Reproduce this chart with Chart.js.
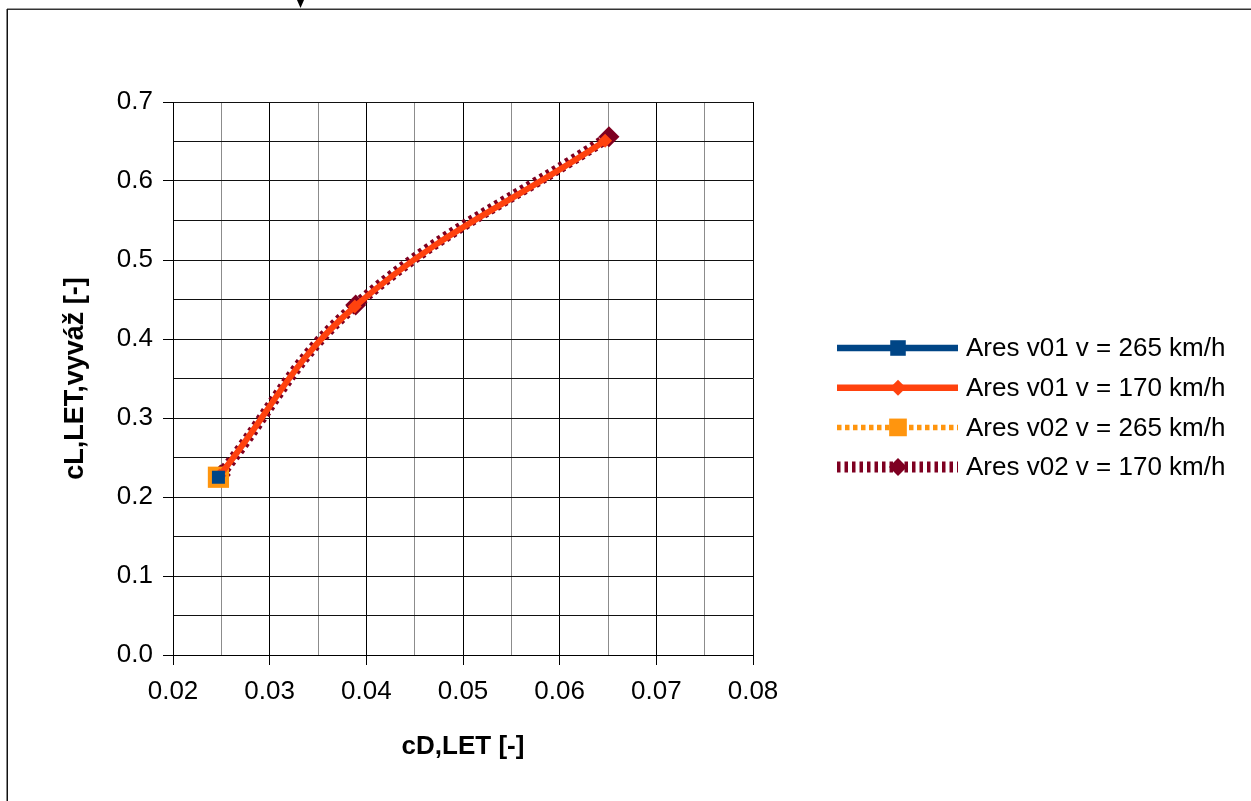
<!DOCTYPE html>
<html>
<head>
<meta charset="utf-8">
<script src="https://cdn.jsdelivr.net/npm/chart.js@4/dist/chart.umd.min.js"></script>
<style>
html,body{margin:0;padding:0;background:#fff;}
#wrap{width:1251px;height:801px;position:relative;}
canvas{display:block;}
</style>
</head>
<body>
<div id="wrap"><canvas id="c" width="1251" height="801"></canvas></div>
<script>
// ---- data ----
const seriesNames = ['Ares v01 v = 265 km/h', 'Ares v01 v = 170 km/h', 'Ares v02 v = 265 km/h', 'Ares v02 v = 170 km/h'];
const v01_265_cD = [0.0247];
const v01_265_cL = [0.225];
const v01_170_cD = [0.0248, 0.0388, 0.0647];
const v01_170_cL = [0.227, 0.441, 0.651];
const v02_265_cD = [0.0247];
const v02_265_cL = [0.225];
const v02_170_cD = [0.0249, 0.0389, 0.0651];
const v02_170_cL = [0.228, 0.443, 0.656];
const xTickLabels = ['0.02', '0.03', '0.04', '0.05', '0.06', '0.07', '0.08'];
const yTickLabels = ['0.0', '0.1', '0.2', '0.3', '0.4', '0.5', '0.6', '0.7'];
const xTitle = 'cD,LET [-]';
const yTitle = 'cL,LET,vyváž [-]';

function pts(xs, ys) { return xs.map((x, i) => ({x: x, y: ys[i]})); }

const FONT = '"Liberation Sans", Arial, sans-serif';
Chart.defaults.font.family = FONT;
Chart.defaults.color = '#000';

const frame = {
  id: 'frame',
  beforeDraw(chart) {
    const c = chart.ctx;
    c.save();
    c.fillStyle = '#fff';
    c.fillRect(0, 0, chart.width, chart.height);
    c.fillStyle = '#9a9a9a';
    c.fillRect(7, 8, 1244, 1);
    c.fillStyle = '#333';
    c.fillRect(7, 9, 1244, 1);
    c.fillStyle = '#111';
    c.fillRect(6.5, 9, 1.5, 792);
    c.beginPath();
    c.moveTo(297, 0); c.lineTo(304, 0); c.lineTo(300.5, 8); c.closePath();
    c.fillStyle = '#000';
    c.fill();
    c.restore();
  }
};

function markerPath(c, style, x, y, r) {
  c.beginPath();
  if (style === 'rect') {
    const s = r * Math.SQRT1_2;
    c.rect(x - s, y - s, 2 * s, 2 * s);
  } else {
    c.moveTo(x - r, y); c.lineTo(x, y - r); c.lineTo(x + r, y); c.lineTo(x, y + r); c.closePath();
  }
}

const legendPlugin = {
  id: 'customLegend',
  afterDraw(chart) {
    const c = chart.ctx;
    const x0 = 837, x1 = 958, mx = 898, tx = 966, y0 = 348, dy = 39.7;
    chart.data.datasets.forEach((ds, i) => {
      const y = y0 + i * dy;
      c.save();
      c.strokeStyle = ds.borderColor;
      c.lineWidth = ds.legendLineWidth;
      c.lineCap = 'butt';
      c.setLineDash(ds.borderDash || []);
      c.beginPath(); c.moveTo(x0, y); c.lineTo(x1, y); c.stroke();
      c.setLineDash([]);
      markerPath(c, ds.pointStyle, mx, y, ds.legendRadius);
      c.fillStyle = ds.pointBackgroundColor;
      c.fill();
      c.fillStyle = '#000';
      c.font = '26px ' + FONT;
      c.textBaseline = 'middle';
      c.textAlign = 'left';
      c.fillText(ds.label, tx, y + 1);
      c.restore();
    });
  }
};

const blue = '#004586', red = '#ff420e', orange = '#ff950e', maroon = '#7e0021';

new Chart(document.getElementById('c'), {
  type: 'scatter',
  data: {
    datasets: [
      {
        label: seriesNames[0], data: pts(v01_265_cD, v01_265_cL), order: 1,
        showLine: true, borderColor: blue, borderWidth: 6, legendLineWidth: 6.5,
        pointStyle: 'rect', pointRadius: 9.2, pointBackgroundColor: blue, pointBorderWidth: 0,
        legendRadius: 11
      },
      {
        label: seriesNames[1], data: pts(v01_170_cD, v01_170_cL), order: 2,
        showLine: true, tension: 0.4, borderColor: red, borderWidth: 6, legendLineWidth: 6.5,
        pointStyle: 'rectRot', pointRadius: 7, pointBackgroundColor: red, pointBorderWidth: 0,
        legendRadius: 8
      },
      {
        label: seriesNames[2], data: pts(v02_265_cD, v02_265_cL), order: 3,
        showLine: true, borderColor: orange, borderWidth: 6, legendLineWidth: 5.5, borderDash: [4.5, 3.5],
        pointStyle: 'rect', pointRadius: 15, pointBackgroundColor: orange, pointBorderWidth: 0,
        legendRadius: 12.5
      },
      {
        label: seriesNames[3], data: pts(v02_170_cD, v02_170_cL), order: 4,
        showLine: true, tension: 0.4, borderColor: maroon, borderWidth: 11, legendLineWidth: 11, borderDash: [3.5, 4],
        pointStyle: 'rectRot', pointRadius: 10.5, pointBackgroundColor: maroon, pointBorderWidth: 0,
        legendRadius: 9
      }
    ]
  },
  options: {
    responsive: false,
    animation: false,
    devicePixelRatio: 1,
    layout: {padding: {top: 102, right: 498, bottom: 0, left: 0}},
    plugins: {legend: {display: false}, tooltip: {enabled: false}},
    elements: {point: {hoverRadius: 0}},
    scales: {
      x: {
        type: 'linear', min: 0.02, max: 0.08,
        afterFit: s => { s.height = 146; },
        ticks: {
          stepSize: 0.005, autoSkip: false, maxRotation: 0, padding: 11,
          font: {size: 26}, color: '#000',
          callback: v => { const k = Math.round((v - 0.02) / 0.005); return k % 2 === 0 ? xTickLabels[k / 2] : ''; }
        },
        grid: {
          color: ctx => (ctx.index % 2 ? '#8c8c8c' : '#000'),
          lineWidth: 1, tickLength: 10,
          tickColor: ctx => (ctx.index % 2 ? 'rgba(0,0,0,0)' : '#000')
        },
        border: {display: true, color: '#000', width: 1},
        title: {display: true, text: xTitle, font: {size: 26, weight: 'bold'}, color: '#000', padding: {top: 0, bottom: 39}}
      },
      y: {
        type: 'linear', min: 0, max: 0.7,
        afterFit: s => { s.width = 173; },
        ticks: {
          stepSize: 0.05, autoSkip: false, padding: 10,
          font: {size: 26}, color: '#000',
          callback: v => { const k = Math.round(v / 0.05); return k % 2 === 0 ? yTickLabels[k / 2] : ''; }
        },
        grid: {
          color: '#111',
          lineWidth: 1, tickLength: 10,
          tickColor: ctx => (ctx.index % 2 ? 'rgba(0,0,0,0)' : '#000')
        },
        border: {display: true, color: '#000', width: 1},
        title: {display: true, text: yTitle, font: {size: 27, weight: 'bold'}, color: '#000', padding: {top: 59, bottom: 0}}
      }
    }
  },
  plugins: [frame, legendPlugin]
});
</script>
</body>
</html>
